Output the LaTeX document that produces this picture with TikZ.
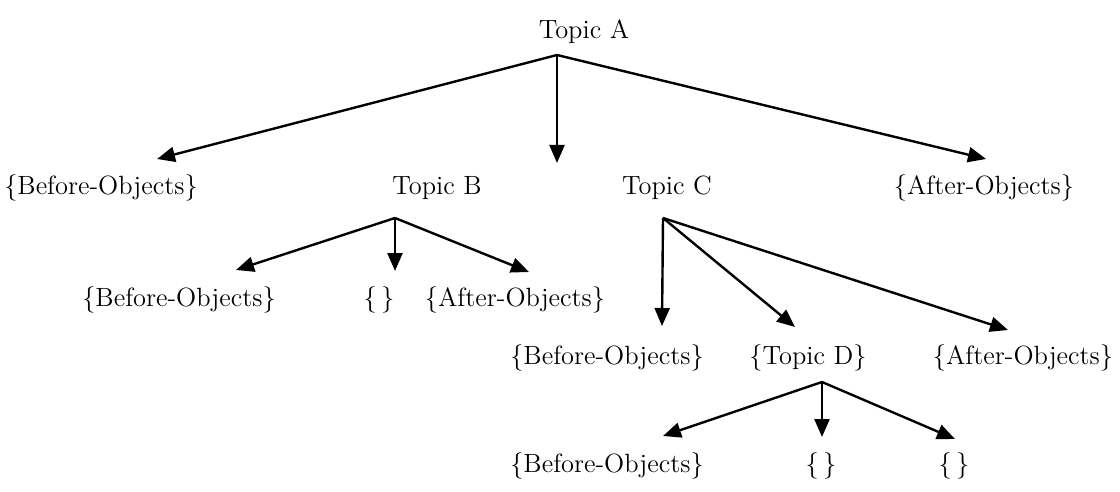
\documentclass[tikz,border=0pt]{standalone}
\usetikzlibrary{arrows.meta}
\begin{document}
\begin{tikzpicture}[x=0.5pt,y=-0.5pt,
  lbl/.style={font=\fontsize{13.2}{15}\selectfont, inner sep=0pt, anchor=base},
  arr/.style={line width=1.2pt, -{Triangle[length=9pt,width=7.5pt]}}]
\useasboundingbox (0,0) rectangle (1120,492);
% text nodes
\node[lbl] (A)  at (584,39)  {Topic A};
\node[lbl] (bo1) at (101,194) {\{Before-Objects\}};
\node[lbl] (B)  at (437,194) {Topic B};
\node[lbl] (C)  at (667,194) {Topic C};
\node[lbl] (ao1) at (984,194) {\{After-Objects\}};
\node[lbl] (bo2) at (179,306) {\{Before-Objects\}};
\node[lbl] (e1)  at (379,306) {\{\,\}};
\node[lbl] (ao2) at (515,306) {\{After-Objects\}};
\node[lbl] (bo3) at (607,364) {\{Before-Objects\}};
\node[lbl] (D)   at (808,364) {\{Topic D\}};
\node[lbl] (ao3) at (1023,364) {\{After-Objects\}};
\node[lbl] (bo4) at (607,472) {\{Before-Objects\}};
\node[lbl] (e2)  at (821,472) {\{\,\}};
\node[lbl] (e3)  at (954,472) {\{\,\}};
% branch points and arrow tips
\coordinate (a0) at (557,55);
\coordinate (a1) at (157,159);
\coordinate (a2) at (557,163);
\coordinate (a3) at (986,159);
\coordinate (b0) at (395,218);
\coordinate (b1) at (236,270);
\coordinate (b2) at (395,271);
\coordinate (b3) at (529,272);
\coordinate (c0) at (663,218);
\coordinate (c1) at (662,326);
\coordinate (c2) at (795,327);
\coordinate (c3) at (1008,330);
\coordinate (d0) at (822,382);
\coordinate (d1) at (663,436);
\coordinate (d2) at (822,437);
\coordinate (d3) at (955,439);
% connectors
\draw[arr] (a0) -- (a1);
\draw[arr] (a0) -- (a2);
\draw[arr] (a0) -- (a3);
\draw[arr] (b0) -- (b1);
\draw[arr] (b0) -- (b2);
\draw[arr] (b0) -- (b3);
\draw[arr] (c0) -- (c1);
\draw[arr] (c0) -- (c2);
\draw[arr] (c0) -- (c3);
\draw[arr] (d0) -- (d1);
\draw[arr] (d0) -- (d2);
\draw[arr] (d0) -- (d3);
\end{tikzpicture}
\end{document}
